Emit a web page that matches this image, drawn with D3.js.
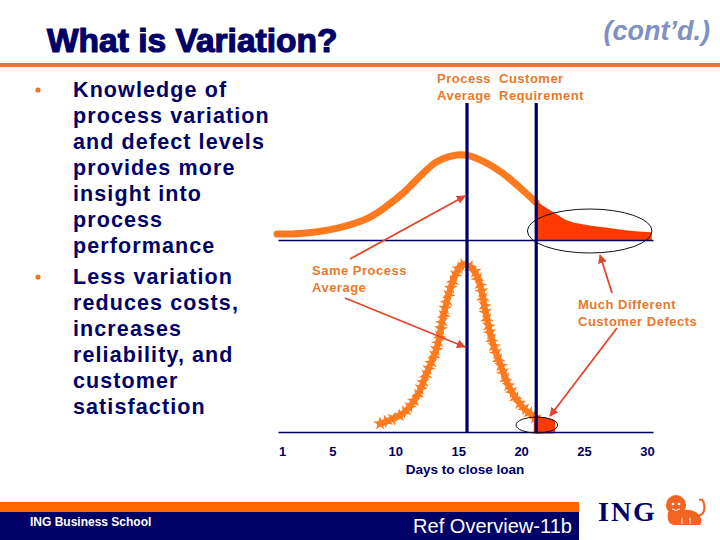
<!DOCTYPE html>
<html>
<head>
<meta charset="utf-8">
<script src="https://cdn.jsdelivr.net/npm/d3@7"></script>
<style>
  html, body { margin: 0; padding: 0; background: #ffffff; }
  svg { display: block; font-family: "Liberation Sans", Arial, sans-serif; }
</style>
</head>
<body>
<div id="chart"></div>
<script>
// ---------------- data ----------------
const titleText = "What is Variation?";
const contText = "(cont\u2019d.)";
const bullets = [
  ["Knowledge of", "process variation", "and defect levels", "provides more", "insight into", "process", "performance"],
  ["Less variation", "reduces costs,", "increases", "reliability, and", "customer", "satisfaction"]
];
const tickDays = [1, 5, 10, 15, 20, 25, 30];
const xAxisTitle = "Days to close loan";
const processAverage = 15.7;
const customerRequirement = 21.2;

// wide (high-variation) process: days vs relative frequency
const wideDays = [0.6, 2.7, 5.4, 8.0, 10.6, 11.9, 13.3, 14.9, 15.9, 17.2, 18.5, 20.1, 21.2, 22.5, 23.8, 26.4, 29.1, 30.3];
const wideFreq = [7, 8, 14, 27, 55, 74, 92, 100, 99, 91, 79, 59, 44, 32, 21, 14, 9, 8];

// narrow (low-variation) process
const narrowDays = [8.8, 10.6, 11.7, 12.5, 13.3, 13.8, 14.3, 14.9, 15.3, 16.1, 16.7, 17.2, 17.7, 18.3, 19.1, 20.1, 21.2, 21.9, 22.5];
const narrowFreq = [5, 11, 21, 35, 50, 68, 83, 95, 99, 97, 88, 70, 54, 41, 26, 15, 8, 7, 6];

const footerLeft = "ING Business School";
const footerRight = "Ref Overview-11b";

// ---------------- styles ----------------
const NAVY = "#000066";
const ORANGE = "#FF6600";
const CURVE = "#FF7A1E";
const DEFECT = "#FF3A00";
const NOTE = "#E8792B";
const ARROW = "#E2462A";

const W = 720, H = 540;
const svg = d3.select("#chart").append("svg").attr("width", W).attr("height", H);

const defs = svg.append("defs");
defs.append("marker").attr("id", "arr").attr("viewBox", "0 0 10 10")
  .attr("refX", 9).attr("refY", 5).attr("markerWidth", 5).attr("markerHeight", 5)
  .attr("orient", "auto")
  .append("path").attr("d", "M0,0 L10,5 L0,10 z").attr("fill", ARROW);

// ---------------- header ----------------
svg.append("text").attr("x", 47).attr("y", 52).text(titleText)
  .attr("font-size", 33.5).attr("font-weight", "bold").attr("fill", NAVY)
  .attr("stroke", NAVY).attr("stroke-width", 1.2);
svg.append("text").attr("x", 710).attr("y", 40).attr("text-anchor", "end").text(contText)
  .attr("font-size", 27).attr("font-weight", "bold").attr("font-style", "italic").attr("fill", "#8090C4");
svg.append("rect").attr("x", 0).attr("y", 63).attr("width", W).attr("height", 4).attr("fill", "#E4782C");

// ---------------- bullets ----------------
let by = 97;
bullets.forEach((lines) => {
  svg.append("circle").attr("cx", 38).attr("cy", by - 7).attr("r", 2.6).attr("fill", "#E8792B");
  lines.forEach((ln) => {
    svg.append("text").attr("x", 73).attr("y", by).text(ln)
      .attr("font-size", 21.5).attr("font-weight", "bold").attr("letter-spacing", 1.1).attr("fill", NAVY);
    by += 26;
  });
  by += 5;
});

// ---------------- scales ----------------
const x = d3.scaleLinear().domain([0.68, 30.48]).range([278, 653]);
const yU = d3.scaleLinear().domain([0, 100]).range([240, 155]);
const yL = d3.scaleLinear().domain([0, 100]).range([432, 263]);

const wide = wideDays.map((d, i) => ({ d, v: wideFreq[i] }));
const narrow = narrowDays.map((d, i) => ({ d, v: narrowFreq[i] }));

// ---------------- upper (wide) distribution ----------------
const gU = svg.append("g");
const lineU = d3.line().x(p => x(p.d)).y(p => yU(p.v)).curve(d3.curveCatmullRom);
const areaU = d3.area().x(p => x(p.d)).y0(yU(0) - 1).y1(p => yU(p.v)).curve(d3.curveCatmullRom);
gU.append("path").datum(wide.filter(p => p.d <= customerRequirement))
  .attr("d", lineU).attr("fill", "none").attr("stroke", CURVE)
  .attr("stroke-width", 7).attr("stroke-linecap", "round");
gU.append("path").datum(wide.filter(p => p.d >= customerRequirement))
  .attr("d", areaU).attr("fill", DEFECT).attr("stroke", DEFECT).attr("stroke-width", 2);

const axU = gU.append("g").attr("transform", `translate(0,${yU(0)})`)
  .call(d3.axisBottom(x).tickValues([]).tickSizeOuter(0));
axU.select(".domain").attr("stroke", NAVY).attr("stroke-width", 1.6);

// ---------------- lower (narrow) distribution ----------------
const gL = svg.append("g");
const lineL = d3.line().x(p => x(p.d)).y(p => yL(p.v)).curve(d3.curveCatmullRom);
const areaL = d3.area().x(p => x(p.d)).y0(yL(0) - 1).y1(p => yL(p.v)).curve(d3.curveCatmullRom);
const narrowOk = narrow.filter(p => p.d <= customerRequirement);
const pathL = gL.append("path").datum(narrowOk)
  .attr("d", lineL).attr("fill", "none").attr("stroke", CURVE)
  .attr("stroke-width", 6).attr("stroke-linecap", "round");
const node = pathL.node();
const len = node.getTotalLength();
const star = d3.symbol().type(d3.symbolStar).size(60);
for (let s = 0, k = 0; s <= len; s += 7, k++) {
  const pt = node.getPointAtLength(s);
  gL.append("path").attr("d", star)
    .attr("transform", `translate(${pt.x},${pt.y}) rotate(${(k * 47) % 360})`)
    .attr("fill", CURVE);
}
gL.append("path").datum(narrow.filter(p => p.d >= customerRequirement))
  .attr("d", areaL).attr("fill", DEFECT).attr("stroke", DEFECT).attr("stroke-width", 5)
  .attr("stroke-linejoin", "round");

const axL = gL.append("g").attr("transform", `translate(0,${yL(0)})`)
  .call(d3.axisBottom(x).tickValues(tickDays).tickSize(0).tickPadding(15).tickSizeOuter(0));
axL.select(".domain").attr("stroke", NAVY).attr("stroke-width", 1.6);
axL.selectAll(".tick text").attr("font-size", 13).attr("font-weight", "bold")
  .attr("fill", NAVY).attr("font-family", "Liberation Sans, Arial, sans-serif");

svg.append("text").attr("x", 465).attr("y", 474).attr("text-anchor", "middle").text(xAxisTitle)
  .attr("font-size", 13.5).attr("font-weight", "bold").attr("fill", NAVY);

// ---------------- ellipses around defects ----------------
svg.append("ellipse").attr("cx", (x(20.5) + x(30.4)) / 2).attr("cy", 231)
  .attr("rx", (x(30.4) - x(20.5)) / 2).attr("ry", 22)
  .attr("fill", "none").attr("stroke", "#111").attr("stroke-width", 1);
svg.append("ellipse").attr("cx", (x(19.6) + x(22.9)) / 2).attr("cy", 425)
  .attr("rx", (x(22.9) - x(19.6)) / 2).attr("ry", 8)
  .attr("fill", "none").attr("stroke", "#111").attr("stroke-width", 1);

// ---------------- process / requirement lines ----------------
[processAverage, customerRequirement].forEach(d => {
  svg.append("line").attr("x1", x(d)).attr("x2", x(d)).attr("y1", 103).attr("y2", yL(0))
    .attr("stroke", NAVY).attr("stroke-width", 3.2);
});

// ---------------- annotations ----------------
function note(lines, xx, yy) {
  lines.forEach((t, i) => {
    svg.append("text").attr("x", xx).attr("y", yy + i * 17).text(t)
      .attr("font-size", 13).attr("font-weight", "bold").attr("letter-spacing", 0.5).attr("fill", NOTE);
  });
}
note(["Process", "Average"], 437, 83);
note(["Customer", "Requirement"], 499, 83);
note(["Same Process", "Average"], 312, 275);
note(["Much Different", "Customer Defects"], 578, 309);

function arrow(x1, y1, x2, y2) {
  svg.append("line").attr("x1", x1).attr("y1", y1).attr("x2", x2).attr("y2", y2)
    .attr("stroke", ARROW).attr("stroke-width", 1.8).attr("marker-end", "url(#arr)");
}
arrow(350, 259, x(processAverage) - 2, 196);
arrow(345, 298, x(processAverage) - 2, 347);
arrow(612, 293, 600, 255);
arrow(617, 328, 550, 416);

// ---------------- footer ----------------
svg.append("rect").attr("x", 0).attr("y", 502).attr("width", 579).attr("height", 10).attr("fill", ORANGE);
svg.append("rect").attr("x", 0).attr("y", 512).attr("width", 579).attr("height", 28).attr("fill", NAVY);
svg.append("text").attr("x", 30).attr("y", 526).text(footerLeft)
  .attr("font-size", 12).attr("font-weight", "bold").attr("fill", "#ffffff");
svg.append("text").attr("x", 413).attr("y", 533).text(footerRight)
  .attr("font-size", 20).attr("font-family", "Liberation Sans Narrow, Arial Narrow, sans-serif")
  .attr("textLength", 159).attr("lengthAdjust", "spacingAndGlyphs").attr("fill", "#ffffff");

// ING logo
svg.append("text").attr("x", 598).attr("y", 521).text("ING")
  .attr("font-family", "Liberation Serif, Times New Roman, serif").attr("font-weight", "bold")
  .attr("font-size", 28).attr("letter-spacing", 2).attr("fill", NAVY);
const lion = svg.append("g").attr("transform", "translate(664,494)").attr("fill", "#F26522");
lion.append("circle").attr("cx", 12).attr("cy", 11).attr("r", 10);
lion.append("path").attr("d", "M4,18 Q2,30 10,31 L36,31 Q40,24 32,18 Q24,14 14,17 Z");
lion.append("path").attr("d", "M34,22 Q42,20 40,10 Q39,4 35,6").attr("fill", "none")
  .attr("stroke", "#F26522").attr("stroke-width", 2.2);
lion.append("circle").attr("cx", 9).attr("cy", 10).attr("r", 1.3).attr("fill", "#fff");
lion.append("circle").attr("cx", 15).attr("cy", 10).attr("r", 1.3).attr("fill", "#fff");
lion.append("path").attr("d", "M8,15 Q12,18 16,15").attr("fill", "none").attr("stroke", "#fff").attr("stroke-width", 1);
lion.append("path").attr("d", "M18,24 L18,30 M26,24 L26,30").attr("stroke", "#fff").attr("stroke-width", 1);
</script>
</body>
</html>
